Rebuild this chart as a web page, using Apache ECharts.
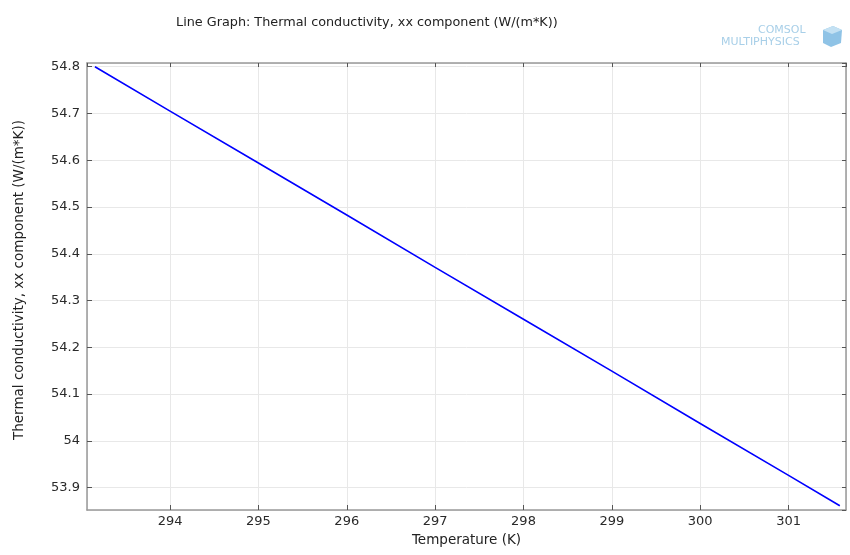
<!DOCTYPE html>
<html>
<head>
<meta charset="utf-8">
<script src="https://cdn.jsdelivr.net/npm/echarts@6/dist/echarts.min.js"></script>
<style>html,body{margin:0;padding:0;background:#fff}#c{width:850px;height:555px}</style>
</head>
<body>
<div id="c"></div>
<script>
// Data
const temperature = [293.15, 294, 295, 296, 297, 298, 299, 300, 301, 301.58];
const conductivity = [54.800, 54.705, 54.594, 54.483, 54.371, 54.260, 54.149, 54.037, 53.926, 53.861];
const xRange = [293.06, 301.65];
const yRange = [53.852, 54.808];
const titleText = 'Line Graph: Thermal conductivity, xx component (W/(m*K))';
const xName = 'Temperature (K)';
const yName = 'Thermal conductivity, xx component (W/(m*K))';

const points = temperature.map((t, i) => [t, conductivity[i]]);
const font = 'DejaVu Sans';
const chart = echarts.init(document.getElementById('c'), null, {renderer: 'canvas'});
chart.setOption({
  animation: false,
  backgroundColor: '#fff',
  title: {
    text: titleText, left: 171, top: 11,
    textStyle: {fontFamily: font, fontSize: 12.8, fontWeight: 'normal', color: '#222'}
  },
  grid: {left: 87, right: 4, top: 63, bottom: 45, containLabel: false},
  xAxis: [{
    type: 'value', min: xRange[0], max: xRange[1], splitNumber: 8,
    name: xName, nameLocation: 'middle', nameGap: 23,
    nameTextStyle: {fontFamily: font, fontSize: 13.5, color: '#222'},
    axisLine: {show: true, lineStyle: {color: '#999', width: 1.5}},
    axisTick: {show: true, inside: true, length: 5, lineStyle: {color: '#555'}},
    axisLabel: {fontFamily: font, fontSize: 13, color: '#2a2a2a', margin: 5, showMinLabel: false, showMaxLabel: false},
    splitLine: {show: true, lineStyle: {color: '#e8e8e8'}}
  }, {
    type: 'value', position: 'top', min: xRange[0], max: xRange[1], splitNumber: 8,
    axisLine: {show: true, lineStyle: {color: '#999', width: 1.5}},
    axisTick: {show: true, inside: true, length: 4, lineStyle: {color: '#555'}},
    axisLabel: {show: false}, splitLine: {show: false}
  }],
  yAxis: [{
    type: 'value', min: yRange[0], max: yRange[1], splitNumber: 10,
    axisLine: {show: true, lineStyle: {color: '#999', width: 1.5}},
    axisTick: {show: true, inside: true, length: 5, lineStyle: {color: '#555'}},
    axisLabel: {fontFamily: font, fontSize: 13, color: '#2a2a2a', margin: 7, showMinLabel: false, showMaxLabel: false},
    splitLine: {show: true, lineStyle: {color: '#e8e8e8'}}
  }, {
    type: 'value', position: 'right', min: yRange[0], max: yRange[1], splitNumber: 10,
    axisLine: {show: true, lineStyle: {color: '#999', width: 1.5}},
    axisTick: {show: true, inside: true, length: 4, lineStyle: {color: '#555'}},
    axisLabel: {show: false}, splitLine: {show: false}
  }],
  series: [{
    type: 'line', data: points, showSymbol: false, symbol: 'none',
    lineStyle: {color: '#0000ff', width: 1.6}
  }],
  graphic: [
    {type: 'text', x: 19, y: 280, rotation: Math.PI / 2,
     style: {text: yName, font: '13.5px "DejaVu Sans"', fill: '#222', align: 'center', verticalAlign: 'middle'}},
    {type: 'text', left: 758, top: 25, style: {text: 'COMSOL', font: '11px "DejaVu Sans"', fill: '#a8cfe8'}},
    {type: 'text', left: 721, top: 37, style: {text: 'MULTIPHYSICS', font: '11px "DejaVu Sans"', fill: '#a8cfe8'}},
    {type: 'polygon', shape: {points: [[823, 30], [833, 26], [842, 30], [841, 43], [831, 47], [823, 43]]}, style: {fill: '#8fc3e6'}},
    {type: 'polygon', shape: {points: [[823, 30], [833, 26], [842, 30], [832, 34]]}, style: {fill: '#c4e1f3'}}
  ]
});
</script>
</body>
</html>
